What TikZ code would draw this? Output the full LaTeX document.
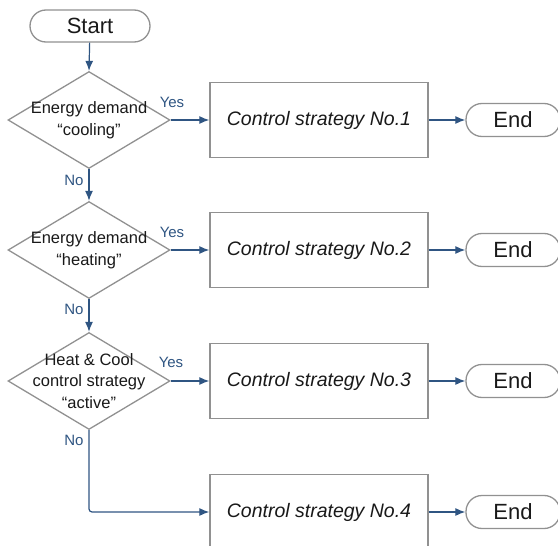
\documentclass[tikz,border=0pt]{standalone}
\usepackage{fontspec}
\setmainfont{Liberation Sans}
\usetikzlibrary{shapes.geometric,arrows.meta}
\definecolor{flowblue}{RGB}{47,85,130}
\definecolor{edgegray}{RGB}{145,145,145}
\definecolor{textblack}{RGB}{25,25,25}
\begin{document}
\begin{tikzpicture}[x=1pt,y=-1pt,
  term/.style={draw=edgegray,line width=1.3pt,rounded corners=16pt,minimum height=32pt,inner sep=0pt,text=textblack,font=\fontsize{22}{24}\selectfont},
  dia/.style={draw=edgegray,line width=1.3pt,diamond,inner sep=0pt,minimum width=162pt,minimum height=97pt},
  dtext/.style={align=center,inner sep=0pt,text=textblack,font=\fontsize{16.5}{21.5}\selectfont},
  procbox/.style={draw=edgegray,line width=1.3pt,minimum width=218pt,minimum height=75pt,inner sep=0pt,text=textblack,font=\fontsize{19.5}{21}\selectfont\itshape},
  flow/.style={draw=flowblue,line width=1.2pt,-{Latex[length=10pt,width=8pt]}},
  lab/.style={text=flowblue,inner sep=0pt,font=\fontsize{15}{16}\selectfont}]
\useasboundingbox (0,0) rectangle (558,546);
\clip (0,0) rectangle (558,546);
\node[term,minimum width=120pt] (start) at (90,26) {Start};
\node[dia] (d1) at (89,120) {};
\node[dtext] (t1) at (d1.center) {Energy demand\\“cooling”};
\node[dia] (d2) at (89,250) {};
\node[dtext] (t2) at (d2.center) {Energy demand\\“heating”};
\node[dia] (d3) at (89,381) {};
\node[dtext] (t3) at (d3.center) {Heat \& Cool\\control strategy\\“active”};
\node[procbox] (b1) at (319,120) {Control strategy No.1};
\node[procbox] (b2) at (319,250) {Control strategy No.2};
\node[procbox] (b3) at (319,381) {Control strategy No.3};
\node[procbox] (b4) at (319,512) {Control strategy No.4};
\node[term,minimum width=94pt,minimum height=33pt] (e1) at (513,120) {End};
\node[term,minimum width=94pt,minimum height=33pt] (e2) at (513,250) {End};
\node[term,minimum width=94pt,minimum height=33pt] (e3) at (513,381) {End};
\node[term,minimum width=94pt,minimum height=33pt] (e4) at (513,512) {End};
\coordinate (c4) at (89,512);
\draw[flow] (start) -- (d1.north);
\draw[flow] (d1.south) -- (d2.north);
\draw[flow] (d2.south) -- (d3.north);
\draw[flow,rounded corners=3pt] (d3.south) -- (c4) -- (b4.west);
\draw[flow] (d1.east) -- (b1.west);
\draw[flow] (d2.east) -- (b2.west);
\draw[flow] (d3.east) -- (b3.west);
\draw[flow] (b1.east) -- (e1.west);
\draw[flow] (b2.east) -- (e2.west);
\draw[flow] (b3.east) -- (e3.west);
\draw[flow] (b4.east) -- (e4.west);
\node[lab] (y1) at (172,102) {Yes};
\node[lab] (y2) at (172,232) {Yes};
\node[lab] (y3) at (171,362) {Yes};
\node[lab] (n1) at (74,180) {No};
\node[lab] (n2) at (74,309) {No};
\node[lab] (n3) at (74,440) {No};
\end{tikzpicture}
\end{document}
